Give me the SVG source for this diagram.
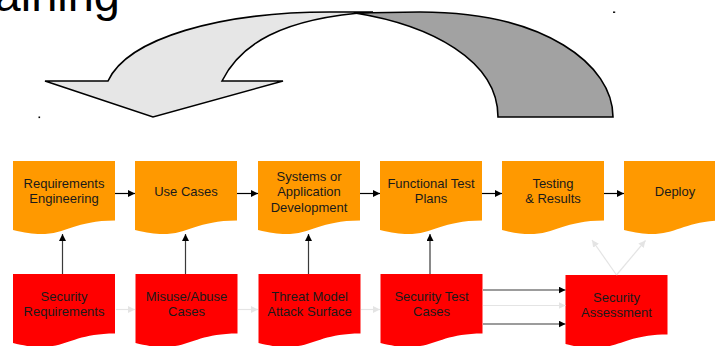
<svg xmlns="http://www.w3.org/2000/svg" xmlns:xlink="http://www.w3.org/1999/xlink" width="715" height="346" viewBox="0 0 715 346">
<style>
  .lbl { font-family: "Liberation Sans", Arial, sans-serif; font-size: 13px; fill: #1a1a1a; text-anchor: middle; }
  .title { font-family: "Liberation Sans", Arial, sans-serif; font-size: 47px; fill: #000; text-anchor: end; }
  .orange { fill: #ff9900; }
  .red { fill: #ff0000; }
  .dk { stroke: #3a3a3a; stroke-width: 1.2; fill: none; }
  .blk { stroke: #000; stroke-width: 1.2; fill: none; }
  .lt { stroke: #e4e4e4; stroke-width: 1.2; fill: none; }
  .band { stroke: #000; stroke-width: 1.6; stroke-linejoin: miter; }
</style>
<defs>
  <path id="doc" d="M0,0 H102 V59.4 C51,59.4 51,82 0,69.1 Z"/>
  <marker id="ahd" markerUnits="userSpaceOnUse" markerWidth="8" markerHeight="8" refX="7" refY="3.5" orient="auto">
    <path d="M0,0 L7,3.5 L0,7 Z" fill="#000"/>
  </marker>
  <marker id="ahl" markerUnits="userSpaceOnUse" markerWidth="8" markerHeight="8" refX="7" refY="3.5" orient="auto">
    <path d="M0,0 L7,3.5 L0,7 Z" fill="#e4e4e4"/>
  </marker>
</defs>
<rect width="715" height="346" fill="#fff"/>

<text class="title" x="120" y="11">Training</text>

<g id="curved-arrow">
  <path class="band" fill="#a2a2a2" d="M355,13 L420,12 C545,12 613,65 613,117 L498,117 C498,60 430,25 355,13 Z"/>
  <path class="band" fill="#e6e6e6" d="M45,81 L108,81 C128,38 220,12 330,12 L373,12 C280,18 240,45 222,81 L283,81 L153,117 Z"/>
</g>
<rect x="38.5" y="116.5" width="1.6" height="1.6" fill="#000"/>
<rect x="613" y="11.5" width="2.2" height="1.4" fill="#000"/>

<g id="req-eng">
  <use xlink:href="#doc" x="13" y="161" class="orange"/>
  <text class="lbl" x="64" y="187.5">Requirements</text>
  <text class="lbl" x="64" y="203">Engineering</text>
</g>
<g id="use-cases">
  <use xlink:href="#doc" x="135" y="161" class="orange"/>
  <text class="lbl" x="186" y="196">Use Cases</text>
</g>
<g id="sys-dev">
  <use xlink:href="#doc" x="258" y="161" class="orange"/>
  <text class="lbl" x="309" y="180.5">Systems or</text>
  <text class="lbl" x="309" y="196">Application</text>
  <text class="lbl" x="309" y="211.5">Development</text>
</g>
<g id="func-test">
  <use xlink:href="#doc" x="380" y="161" class="orange"/>
  <text class="lbl" x="431" y="187.5">Functional Test</text>
  <text class="lbl" x="431" y="203">Plans</text>
</g>
<g id="testing">
  <use xlink:href="#doc" x="502" y="161" class="orange"/>
  <text class="lbl" x="553" y="187.5">Testing</text>
  <text class="lbl" x="553" y="203">&amp; Results</text>
</g>
<g id="deploy">
  <use xlink:href="#doc" x="624" y="161" class="orange"/>
  <text class="lbl" x="675" y="196">Deploy</text>
</g>

<g id="sec-req">
  <use xlink:href="#doc" x="13" y="274" class="red"/>
  <text class="lbl" x="64" y="301">Security</text>
  <text class="lbl" x="64" y="316">Requirements</text>
</g>
<g id="misuse">
  <use xlink:href="#doc" x="135.5" y="274" class="red"/>
  <text class="lbl" x="186.5" y="301">Misuse/Abuse</text>
  <text class="lbl" x="186.5" y="316">Cases</text>
</g>
<g id="threat">
  <use xlink:href="#doc" x="258.5" y="274" class="red"/>
  <text class="lbl" x="309.5" y="301">Threat Model</text>
  <text class="lbl" x="309.5" y="316">Attack Surface</text>
</g>
<g id="sec-test">
  <use xlink:href="#doc" x="380.5" y="274" class="red"/>
  <text class="lbl" x="431.5" y="301">Security Test</text>
  <text class="lbl" x="431.5" y="316">Cases</text>
</g>
<g id="sec-assess">
  <use xlink:href="#doc" x="565.5" y="275" class="red"/>
  <text class="lbl" x="616.5" y="302">Security</text>
  <text class="lbl" x="616.5" y="317">Assessment</text>
</g>

<g id="connectors">
  <line class="blk" x1="115" y1="193.5" x2="135" y2="193.5" marker-end="url(#ahd)"/>
  <line class="blk" x1="237" y1="193.5" x2="258" y2="193.5" marker-end="url(#ahd)"/>
  <line class="blk" x1="360" y1="193.5" x2="380" y2="193.5" marker-end="url(#ahd)"/>
  <line class="blk" x1="482" y1="193.5" x2="502" y2="193.5" marker-end="url(#ahd)"/>
  <line class="blk" x1="604" y1="193.5" x2="624" y2="193.5" marker-end="url(#ahd)"/>

  <line class="dk" x1="62.5" y1="274" x2="62.5" y2="234" marker-end="url(#ahd)"/>
  <line class="dk" x1="185.5" y1="274" x2="185.5" y2="234" marker-end="url(#ahd)"/>
  <line class="dk" x1="308.5" y1="274" x2="308.5" y2="234" marker-end="url(#ahd)"/>
  <line class="dk" x1="430" y1="274" x2="430" y2="234" marker-end="url(#ahd)"/>

  <line class="lt" x1="116" y1="309.5" x2="135" y2="309.5" marker-end="url(#ahl)"/>
  <line class="lt" x1="238" y1="309.5" x2="258" y2="309.5" marker-end="url(#ahl)"/>
  <line class="lt" x1="361" y1="309.5" x2="380" y2="309.5" marker-end="url(#ahl)"/>

  <line class="dk" x1="483" y1="290" x2="565.5" y2="290" marker-end="url(#ahd)"/>
  <line class="lt" x1="483" y1="305.5" x2="565.5" y2="305.5" marker-end="url(#ahl)"/>
  <line class="dk" x1="483" y1="324" x2="565.5" y2="324" marker-end="url(#ahd)"/>

  <line class="lt" x1="616.5" y1="275" x2="592" y2="240" marker-end="url(#ahl)"/>
  <line class="lt" x1="616.5" y1="275" x2="645.5" y2="240.5" marker-end="url(#ahl)"/>
</g>
</svg>
